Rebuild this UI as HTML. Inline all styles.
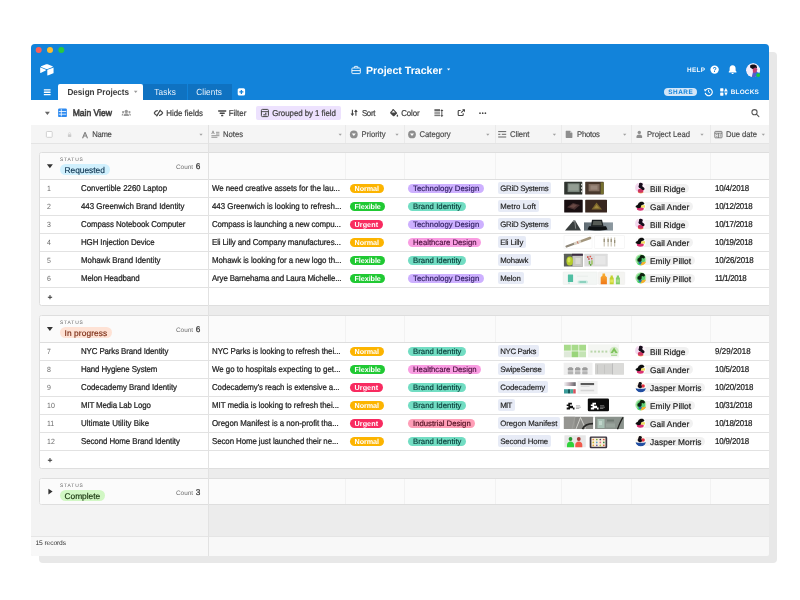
<!DOCTYPE html>
<html><head><meta charset="utf-8"><title>Project Tracker</title>
<style>
*{box-sizing:border-box;margin:0;padding:0}
html,body{width:800px;height:600px;background:#fff;overflow:hidden}
body{font-family:"Liberation Sans",sans-serif;font-size:7.9px;color:#222;position:relative;text-rendering:geometricPrecision}
.shadow{position:absolute;left:39px;top:52px;width:738px;height:511px;background:#e8e8e8;border-radius:4px}
.win{position:absolute;left:31px;top:44px;width:737.5px;height:512px;background:#ececec;border-radius:4px 4px 2px 2px;overflow:hidden}
.page{position:absolute;left:-31px;top:-44px;width:800px;height:600px;will-change:transform}
.hdr{position:absolute;left:31px;top:44px;width:738px;height:56px;background:#1283da}
.t{position:absolute;white-space:nowrap}
.title{left:366px;top:62.6px;color:#fff;font-weight:bold;font-size:10.6px;line-height:16px}
.hl{color:#f4f9fe;font-weight:bold;font-size:6.4px;line-height:8px}
.tabact{position:absolute;left:58px;top:84px;width:85px;height:16px;background:#fff;border-radius:2px 2px 0 0}
.tab{position:absolute;top:84px;height:16px;background:#0f72c1}
.tabt{top:84.6px;line-height:16px;font-size:8.2px}
.tbar{position:absolute;left:31px;top:100px;width:738px;height:25px;background:#fff}
.tb{top:100.7px;line-height:25px;font-size:7.9px;color:#444;-webkit-text-stroke:.22px #444}
.chdr{position:absolute;left:31px;top:125px;width:738px;height:19px;background:#f5f5f5;border-bottom:1px solid #e4e4e4}
.ch{top:125.8px;line-height:18px;font-size:7.7px;color:#484848;-webkit-text-stroke:.15px #484848}
.cl{position:absolute;top:125px;width:1px;height:18px;background:#eaeaea}
.grp{position:absolute;left:39px;width:740px;background:#fff;border:1px solid #dedede;border-radius:2.5px;overflow:hidden}
.ghead{position:absolute;left:0;top:0;width:100%;height:27px;background:#fbfbfb;border-bottom:1px solid #dedede}
.ghead.closed{border-bottom:0;height:26px}
.ghead span{position:absolute;white-space:nowrap}
.ghead i{position:absolute;top:0;width:1px;height:26px;background:#f2f2f2}
.gstatus{left:20px;top:4.5px;font-size:4.9px;letter-spacing:.85px;color:#666;line-height:6px}
.glabel{left:19.5px;top:11px;height:11px;line-height:12px;border-radius:5.5px;padding:0 0 0 5px;font-size:8.4px;color:#222;-webkit-text-stroke:.15px #222}
.req{background:#d0f0fd;color:#0d3350;-webkit-text-stroke-color:#0d3350}.inp{background:#fee2d5;color:#7a2c14;-webkit-text-stroke-color:#7a2c14}.cmp{background:#d1f7c4;color:#14300a;-webkit-text-stroke-color:#14300a}
.gcount{left:136px;top:8px;font-size:6.4px;color:#6e6e6e;line-height:11px}
.gcount b{font-weight:normal;font-size:8.3px;color:#333;margin-left:1px;-webkit-text-stroke:.2px #333}
.row{position:absolute;left:0;width:740px;height:18px;border-bottom:1px solid #e2e2e2;line-height:17px;white-space:nowrap}
.row.add{border-bottom:0}
.row>span{position:absolute;top:0}
.num{left:7px;top:.8px !important;color:#6a6a6a;font-size:7px}
.name{left:41px;color:#222;-webkit-text-stroke:.22px #222}
.notes{left:172px;color:#222;-webkit-text-stroke:.22px #222}
.pill{top:3.5px !important;height:9.6px;line-height:10.4px;border-radius:5px;font-size:7.75px}
.pri{left:309.5px;padding:0 0 0 5px;color:#fff;font-weight:bold;font-size:7.2px}
.cat{left:368px;padding:0 0 0 5px;-webkit-text-stroke:.15px currentColor}
.client{left:457.5px;top:2.3px !important;height:11.5px;line-height:14.3px;overflow:hidden;background:#e7ebf6;padding:0 0 0 2.7px;font-size:7.8px;-webkit-text-stroke:.15px #222;border-radius:2px;color:#1c1c1c}
.ph{position:absolute;left:521px;top:0}
.lead{left:596px;top:3.6px !important;height:9.8px;line-height:10.6px;background:#f1f1f1;border-radius:5px;padding:0 0 0 14px;font-size:8.3px;color:#1c1c1c;-webkit-text-stroke:.2px #222}
.avs{position:absolute;left:595.3px;top:2.2px}
.due{left:675px;color:#222;-webkit-text-stroke:.22px #222}
.plus{left:7.6px;top:1.2px !important;font-weight:bold;color:#333;font-size:8.5px}
.foot{position:absolute;left:31px;top:536px;width:738px;height:20px;background:#f8f8f8;border-top:1px solid #e5e5e5}
.vline{position:absolute;left:207.5px;top:125px;width:1px;height:431px;background:#e2e2e2}
.icons{position:absolute;left:0;top:0}
.tb,.ch,.name,.notes,.due,.num,.tabt{transform:scaleY(1.08);transform-origin:0 55%}
</style></head><body>
<div class="shadow"></div>
<div class="win"><div class="page">
 <div class="hdr"></div>
 <div class="tabact"></div>
 <div class="tab" style="left:143px;width:44px"></div>
 <div class="tab" style="left:187.5px;width:44px"></div>
 <div style="position:absolute;left:663.8px;top:88px;width:33.2px;height:7.7px;border-radius:4px;background:#d3e6f8"></div>
 <span class="t title" style="letter-spacing:-0.007px">Project Tracker</span>
 <span class="t hl" style="left:687px;top:66.5px;letter-spacing:0.31px">HELP</span>
 <span class="t hl" style="left:730.7px;top:88.7px;letter-spacing:0.216px">BLOCKS</span>
 <span class="t hl" style="left:668.2px;top:88.7px;color:#1283da;letter-spacing:0.549px">SHARE</span>
 <span class="t tabt" style="left:67.4px;color:#3c3c3c;font-weight:bold;letter-spacing:-0.013px">Design Projects</span>
 <span class="t tabt" style="left:154.2px;color:#eaf3fc;letter-spacing:0.21px">Tasks</span>
 <span class="t tabt" style="left:196.2px;color:#eaf3fc;letter-spacing:0.122px">Clients</span>
 <div class="tbar"></div>
 <span class="t tb" style="left:72.7px;font-size:8.6px;-webkit-text-stroke:.55px #444;letter-spacing:-0.027px">Main View</span>
 <span class="t tb" style="left:166.2px;letter-spacing:0.001px">Hide fields</span>
 <span class="t tb" style="left:228.8px;letter-spacing:-0.011px">Filter</span>
 <div style="position:absolute;left:256px;top:105.5px;width:85px;height:14.5px;background:#ede2fe;border-radius:2px"></div>
 <span class="t tb" style="left:272.2px;letter-spacing:-0.048px">Grouped by 1 field</span>
 <span class="t tb" style="left:361.9px;letter-spacing:-0.33px">Sort</span>
 <span class="t tb" style="left:401.2px;letter-spacing:-0.132px">Color</span>
 <div class="chdr"></div>
 <i class="cl" style="left:345px"></i><i class="cl" style="left:404px"></i><i class="cl" style="left:495px"></i><i class="cl" style="left:561px"></i><i class="cl" style="left:631px"></i><i class="cl" style="left:710px"></i>
 <span class="t ch" style="left:92.2px;letter-spacing:-0.297px">Name</span>
 <span class="t ch" style="left:223.1px;letter-spacing:-0.029px">Notes</span>
 <span class="t ch" style="left:361.5px;letter-spacing:0.02px">Priority</span>
 <span class="t ch" style="left:419.5px;letter-spacing:0.001px">Category</span>
 <span class="t ch" style="left:510px;letter-spacing:-0.057px">Client</span>
 <span class="t ch" style="left:577px;letter-spacing:-0.194px">Photos</span>
 <span class="t ch" style="left:647px;letter-spacing:-0.021px">Project Lead</span>
 <span class="t ch" style="left:726px;letter-spacing:-0.036px">Due date</span>
<div style="position:absolute;left:31px;top:144px;width:177px;height:392px;background:#f3f3f3"></div>
<div class="grp" style="top:152px;height:153.5px">
<div class="ghead"><span class="gstatus">STATUS</span><span class="glabel req" style="width:50.5px;letter-spacing:-0.016px">Requested</span><span class="gcount">Count <b>6</b></span><i style="left:305px"></i><i style="left:364px"></i><i style="left:455px"></i><i style="left:521px"></i><i style="left:591px"></i><i style="left:670px"></i></div>
<div class="row" style="top:27px">
<span class="num">1</span><span class="name" style="letter-spacing:0.005px">Convertible 2260 Laptop</span><span class="notes" style="letter-spacing:-0.059px">We need creative assets for the lau...</span>
<span class="pill pri" style="background:#fcb400;width:34.0px;letter-spacing:-0.041px">Normal</span>
<span class="pill cat" style="background:#cdb0ff;color:#2b1a5c;width:75.8px;letter-spacing:0.045px">Technology Design</span>
<span class="client" style="width:53.9px;letter-spacing:-0.24px">GRiD Systems</span>
<svg class="ph" width="70" height="18" viewBox="561 0 70 18"><rect x="564.2" y="1.8" width="18.1" height="12.8" fill="#2f342f" rx="0.6"/><rect x="567.6" y="3.3" width="12" height="8.8" fill="#77837a"/><rect x="568.6" y="4.3" width="10" height="6.300000000000001" fill="#939d93"/><rect x="581" y="3.8" width="1.3" height="1.6" fill="#d8d8d2"/><rect x="581" y="7.2" width="1.3" height="1.6" fill="#d8d8d2"/><rect x="581" y="10.600000000000001" width="1.3" height="1.6" fill="#d8d8d2"/><rect x="585.2" y="1.8" width="18.5" height="12.8" fill="#47372c" rx="0.6"/><rect x="588.6" y="4.0" width="11" height="7.300000000000001" fill="#826d60"/><rect x="590.5" y="5.4" width="7" height="4.300000000000001" fill="#9a877b"/><rect x="600.7" y="2.4" width="3" height="11.600000000000001" fill="#76702f"/></svg>
<span class="lead" style="width:53.2px;letter-spacing:0.038px">Bill Ridge</span><svg class="avs" width="12" height="12" viewBox="0 0 12 12"><clipPath id="cbill"><circle cx="5.800" cy="5.800" r="5.700"/></clipPath><g clip-path="url(#cbill)"><circle cx="5.800" cy="5.800" r="5.700" fill="#fbf3f8"/><g filter="url(#avb)"><ellipse cx="2" cy="5" rx="2.500" ry="4" fill="#f3d8ee"/><ellipse cx="5.700" cy="10.800" rx="3" ry="1.300" fill="#f4a552"/><ellipse cx="5.600" cy="8.700" rx="2.800" ry="2" fill="#cf3563"/><path d="M4.500 1c1.800-.600 3.500.200 3.300 1.600-.100.800-.900 1.100-.500 1.700.500.700 2 1 2.200 2.300.200 1.200-.700 1.700-1.600 1.500-.800-.200-1-.900-1.800-1.200-.900-.300-2-.600-2.500-1.800-.400-1.100.500-1.700.400-2.600-.100-.700.100-1.300.500-1.500z" fill="#190d1a"/></g></g></svg>
<span class="due" style="letter-spacing:-0.131px">10/4/2018</span>
</div>
<div class="row" style="top:45px">
<span class="num">2</span><span class="name" style="letter-spacing:-0.018px">443 Greenwich Brand Identity</span><span class="notes" style="letter-spacing:-0.022px">443 Greenwich is looking to refresh...</span>
<span class="pill pri" style="background:#20c933;width:35.8px;letter-spacing:-0.059px">Flexible</span>
<span class="pill cat" style="background:#72ddc3;color:#063a36;width:58.1px;letter-spacing:0.052px">Brand Identity</span>
<span class="client" style="width:41.1px;letter-spacing:0.065px">Metro Loft</span>
<svg class="ph" width="70" height="18" viewBox="561 0 70 18"><rect x="564.2" y="1.8" width="18.5" height="12.8" fill="#190f11" rx="0.6"/><path d="M567 9.200l6-4.200 7 2-5.500 4.800z" fill="#4b3232"/><path d="M569.500 8.700l3.800-2.600 3.700 1.100-3.300 2.700z" fill="#6a4a45"/><rect x="585.2" y="1.8" width="21.8" height="12.8" fill="#38271f" rx="0.6"/><path d="M591.500 11.500l5-7 5.500 7z" fill="#7d672c"/><path d="M594 10.300l2.500-3.600 2.800 3.600z" fill="#a48b3d"/></svg>
<span class="lead" style="width:57.0px;letter-spacing:0.049px">Gail Ander</span><svg class="avs" width="12" height="12" viewBox="0 0 12 12"><clipPath id="cgail"><circle cx="5.800" cy="5.800" r="5.700"/></clipPath><g clip-path="url(#cgail)"><circle cx="5.800" cy="5.800" r="5.700" fill="#fbfbfb"/><g filter="url(#avb)"><ellipse cx="5.300" cy="8.800" rx="3.500" ry="1.900" fill="#db3273"/><path d="M5.800 5.200h4.200v2.400h-4.200z" fill="#efe062"/><path d="M4.800 2.300c1.600-1 4.200-.300 4.500 1 .200.800-.600 1.300-1.600 1.500-.900.200-1.600.500-1.700 1.400-.100.900-.500 1.700-1.700 1.900-1.500.200-3.300-.100-3.700-1.100-.300-.800.500-1.400 1.300-1.800.700-.400 1-.700 1.300-1.500.300-.600.900-1.100 1.600-1.400z" fill="#0d0d0d"/></g></g></svg>
<span class="due" style="letter-spacing:-0.216px">10/12/2018</span>
</div>
<div class="row" style="top:63px">
<span class="num">3</span><span class="name" style="letter-spacing:-0.073px">Compass Notebook Computer</span><span class="notes" style="letter-spacing:-0.119px">Compass is launching a new compu...</span>
<span class="pill pri" style="background:#f82b60;width:33.0px;letter-spacing:0.08px">Urgent</span>
<span class="pill cat" style="background:#cdb0ff;color:#2b1a5c;width:75.8px;letter-spacing:0.045px">Technology Design</span>
<span class="client" style="width:53.9px;letter-spacing:-0.24px">GRiD Systems</span>
<svg class="ph" width="70" height="18" viewBox="561 0 70 18"><path d="M565 14.500l8.700-10.300h1.300l6 10.300z" fill="#3a3e3e"/><path d="M573.200 6l1.500-1.800 1 8.500" fill="none" stroke="#a7abab" stroke-width=".7"/><linearGradient id="lg3" x1="0" x2="1"><stop offset="0" stop-color="#5f6b73"/><stop offset="1" stop-color="#8e9aa1"/></linearGradient><rect x="584" y="6.4" width="29" height="8.2" fill="url(#lg3)"/><path d="M592 3.800h10l1.500 6.500h-12.500z" fill="#1c2022"/><path d="M593.300 5h7.800l1 4.300h-9.600z" fill="#565b56"/><path d="M589 10.300h17l1.500 3.200c-6 1.300-14 1.300-20 0z" fill="#0f1214"/></svg>
<span class="lead" style="width:53.2px;letter-spacing:0.038px">Bill Ridge</span><svg class="avs" width="12" height="12" viewBox="0 0 12 12"><clipPath id="cbill"><circle cx="5.800" cy="5.800" r="5.700"/></clipPath><g clip-path="url(#cbill)"><circle cx="5.800" cy="5.800" r="5.700" fill="#fbf3f8"/><g filter="url(#avb)"><ellipse cx="2" cy="5" rx="2.500" ry="4" fill="#f3d8ee"/><ellipse cx="5.700" cy="10.800" rx="3" ry="1.300" fill="#f4a552"/><ellipse cx="5.600" cy="8.700" rx="2.800" ry="2" fill="#cf3563"/><path d="M4.500 1c1.800-.600 3.500.200 3.300 1.600-.100.800-.900 1.100-.500 1.700.500.700 2 1 2.200 2.300.200 1.200-.700 1.700-1.600 1.500-.800-.200-1-.900-1.800-1.200-.900-.300-2-.600-2.500-1.800-.400-1.100.500-1.700.400-2.600-.100-.700.100-1.300.500-1.500z" fill="#190d1a"/></g></g></svg>
<span class="due" style="letter-spacing:-0.216px">10/17/2018</span>
</div>
<div class="row" style="top:81px">
<span class="num">4</span><span class="name" style="letter-spacing:-0.096px">HGH Injection Device</span><span class="notes" style="letter-spacing:-0.1px">Eli Lilly and Company manufactures...</span>
<span class="pill pri" style="background:#fcb400;width:34.0px;letter-spacing:-0.041px">Normal</span>
<span class="pill cat" style="background:#f99de2;color:#4a0f3c;width:73.1px;letter-spacing:-0.016px">Healthcare Design</span>
<span class="client" style="width:28.5px;letter-spacing:-0.147px">Eli Lilly</span>
<svg class="ph" width="70" height="18" viewBox="561 0 70 18"><rect x="564" y="1.8" width="28" height="12.8" fill="#fff" stroke="#f0f0f0" stroke-width=".5"/><path d="M566.500 12.500l7.500-2.700" stroke="#8f8778" stroke-width="2.200" stroke-linecap="round"/><path d="M574 9.800l8-2.900" stroke="#d9d2c4" stroke-width="3"/><path d="M577.300 7.400l.8 2.300" stroke="#c0392b" stroke-width=".7"/><path d="M582 6.900l8-2.900" stroke="#a3967d" stroke-width="2.600" stroke-linecap="round"/><rect x="594.8" y="1.8" width="29.8" height="12.8" fill="#fff" stroke="#ededed" stroke-width=".5"/><path d="M604.200 3.500v9M608.100 3.500v9M611.200 3.500v9M614.700 3.500v9" stroke="#b9b19a" stroke-width=".9"/><path d="M604.200 5v3M608.100 5v3M611.200 5v3M614.700 6v3" stroke="#8f876f" stroke-width="1.100"/></svg>
<span class="lead" style="width:57.0px;letter-spacing:0.049px">Gail Ander</span><svg class="avs" width="12" height="12" viewBox="0 0 12 12"><clipPath id="cgail"><circle cx="5.800" cy="5.800" r="5.700"/></clipPath><g clip-path="url(#cgail)"><circle cx="5.800" cy="5.800" r="5.700" fill="#fbfbfb"/><g filter="url(#avb)"><ellipse cx="5.300" cy="8.800" rx="3.500" ry="1.900" fill="#db3273"/><path d="M5.800 5.200h4.200v2.400h-4.200z" fill="#efe062"/><path d="M4.800 2.300c1.600-1 4.200-.300 4.500 1 .200.800-.600 1.300-1.600 1.500-.900.200-1.600.500-1.700 1.400-.100.900-.500 1.700-1.700 1.900-1.500.200-3.300-.100-3.700-1.100-.300-.800.500-1.400 1.300-1.800.700-.400 1-.700 1.300-1.500.300-.600.900-1.100 1.600-1.400z" fill="#0d0d0d"/></g></g></svg>
<span class="due" style="letter-spacing:-0.193px">10/19/2018</span>
</div>
<div class="row" style="top:99px">
<span class="num">5</span><span class="name" style="letter-spacing:-0.038px">Mohawk Brand Identity</span><span class="notes" style="letter-spacing:-0.058px">Mohawk is looking for a new logo th...</span>
<span class="pill pri" style="background:#20c933;width:35.8px;letter-spacing:-0.059px">Flexible</span>
<span class="pill cat" style="background:#72ddc3;color:#063a36;width:58.1px;letter-spacing:0.052px">Brand Identity</span>
<span class="client" style="width:33.7px;letter-spacing:-0.149px">Mohawk</span>
<svg class="ph" width="70" height="18" viewBox="561 0 70 18"><rect x="563.9" y="1.8" width="19" height="12.8" fill="#5c605a" rx="0.5"/><rect x="572.5" y="1.8" width="10.4" height="12.8" fill="#c6c6c2"/><rect x="572" y="1.8" width="10.9" height="2" fill="#3b2b40"/><ellipse cx="569.700" cy="9" rx="3.300" ry="4.600" fill="#b5cc2b"/><ellipse cx="569" cy="8" rx="1.500" ry="2.500" fill="#d6e455"/><rect x="575.5" y="6" width="5" height="6" fill="#dad9d4"/><rect x="584.3" y="1.8" width="23.4" height="12.8" fill="#dddddd" rx="0.5"/><rect x="587" y="4.3" width="1.6" height="1.5" fill="#c83a34"/><rect x="589.5" y="3.8" width="1.6" height="1.5" fill="#d9534a"/><rect x="588.2" y="6.3" width="1.4" height="1.4" fill="#b03030"/><rect x="591" y="6" width="1.4" height="1.4" fill="#d9534a"/><rect x="588.7" y="9" width="1.5" height="3.5" fill="#79b04f"/><rect x="591.2" y="8.3" width="1.5" height="4.2" fill="#9ac25a"/><rect x="590" y="12" width="1.4" height="1.8" fill="#5f9f3f"/><rect x="595" y="4" width="10.5" height="8.5" fill="#e7e7e7"/></svg>
<span class="lead" style="width:58.8px;letter-spacing:0.038px">Emily Pillot</span><svg class="avs" width="12" height="12" viewBox="0 0 12 12"><clipPath id="cemily"><circle cx="5.800" cy="5.800" r="5.700"/></clipPath><g clip-path="url(#cemily)"><circle cx="5.800" cy="5.800" r="5.700" fill="#b5e8ae"/><g filter="url(#avb)"><circle cx="5.800" cy="5.800" r="4.300" fill="#5ecf74"/><path d="M5.800 8.200l5 -.500v4.500h-5z" fill="#f6b12f"/><path d="M2 9.500l3.800-1v3.500h-3.800z" fill="#45d566"/><ellipse cx="5.200" cy="8.600" rx="1.500" ry="1.600" fill="#2b6fae"/><path d="M5.800 1.300c1.800-.800 3.900.300 4.100 1.800.100 1-.500 1.500-1.400 1.300-.700-.200-1.200-.600-1.700-.200-.500.500.100 1.300-.200 2.200-.400 1.100-1.700 1.700-2.900 1.300-1.200-.400-1.600-1.700-1-2.700.500-.900 1.500-1 1.900-1.800.300-.700.500-1.500 1.200-1.900z" fill="#08200f"/></g></g></svg>
<span class="due" style="letter-spacing:-0.093px">10/26/2018</span>
</div>
<div class="row" style="top:117px">
<span class="num">6</span><span class="name" style="letter-spacing:-0.113px">Melon Headband</span><span class="notes" style="letter-spacing:-0.149px">Arye Barnehama and Laura Michelle...</span>
<span class="pill pri" style="background:#20c933;width:35.8px;letter-spacing:-0.059px">Flexible</span>
<span class="pill cat" style="background:#cdb0ff;color:#2b1a5c;width:75.8px;letter-spacing:0.045px">Technology Design</span>
<span class="client" style="width:26.1px;letter-spacing:-0.136px">Melon</span>
<svg class="ph" width="70" height="18" viewBox="561 0 70 18"><rect x="563.2" y="2.0" width="34" height="12.4" fill="#f3f6f4" rx="0.5" stroke="#e9ecea" stroke-width=".5"/><rect x="567.9" y="4.5" width="5.2" height="7.5" fill="#50bfa3" rx="0.5"/><rect x="568.5" y="12.3" width="1" height="1.5" fill="#9fd9cb"/><rect x="577.5" y="10.5" width="10.5" height="3" fill="#c4eadf" rx="1.5"/><rect x="579.5" y="11.5" width="6.5" height="1" fill="#57b9a0"/><rect x="577" y="5.8" width="11" height="0.7" fill="#e4e9e6"/><rect x="598.5" y="2.0" width="26.2" height="12.4" fill="#f4f4f1" rx="0.5" stroke="#ececea" stroke-width=".5"/><linearGradient id="lg6" x1="0" x2="0" y1="0" y2="1"><stop offset="0" stop-color="#f9b233"/><stop offset="1" stop-color="#ef7719"/></linearGradient><path d="M602.500 3.500h2.600v2l1.800 1.800v7h-6.200v-7l1.800-1.800z" fill="url(#lg6)"/><path d="M610.600 5.500h2.200v1.500l.9.900v6.400h-4v-6.400l.9-.9z" fill="#c3d12f"/><rect x="610.2" y="9.5" width="3" height="3" fill="#e3e65a"/><path d="M616.800 5.500h2.200v1.500l.9.900v6.400h-4v-6.400l.9-.9z" fill="#7fcd6b"/><rect x="616.4" y="9.5" width="3" height="3" fill="#a6dd8c"/></svg>
<span class="lead" style="width:58.8px;letter-spacing:0.038px">Emily Pillot</span><svg class="avs" width="12" height="12" viewBox="0 0 12 12"><clipPath id="cemily"><circle cx="5.800" cy="5.800" r="5.700"/></clipPath><g clip-path="url(#cemily)"><circle cx="5.800" cy="5.800" r="5.700" fill="#b5e8ae"/><g filter="url(#avb)"><circle cx="5.800" cy="5.800" r="4.300" fill="#5ecf74"/><path d="M5.800 8.200l5 -.500v4.500h-5z" fill="#f6b12f"/><path d="M2 9.500l3.800-1v3.500h-3.800z" fill="#45d566"/><ellipse cx="5.200" cy="8.600" rx="1.500" ry="1.600" fill="#2b6fae"/><path d="M5.800 1.300c1.800-.800 3.900.300 4.100 1.800.100 1-.500 1.500-1.400 1.300-.700-.200-1.200-.600-1.700-.200-.500.500.100 1.300-.200 2.200-.400 1.100-1.700 1.700-2.900 1.300-1.200-.400-1.600-1.700-1-2.700.500-.900 1.500-1 1.900-1.800.300-.700.500-1.500 1.200-1.900z" fill="#08200f"/></g></g></svg>
<span class="due" style="letter-spacing:-0.357px">11/1/2018</span>
</div>
<div class="row add" style="top:135px"><span class="plus">+</span></div>
</div>
<div class="grp" style="top:315px;height:153.5px">
<div class="ghead"><span class="gstatus">STATUS</span><span class="glabel inp" style="width:52.9px;letter-spacing:0.088px">In progress</span><span class="gcount">Count <b>6</b></span><i style="left:305px"></i><i style="left:364px"></i><i style="left:455px"></i><i style="left:521px"></i><i style="left:591px"></i><i style="left:670px"></i></div>
<div class="row" style="top:27px">
<span class="num">7</span><span class="name" style="letter-spacing:-0.109px">NYC Parks Brand Identity</span><span class="notes" style="letter-spacing:-0.068px">NYC Parks is looking to refresh thei...</span>
<span class="pill pri" style="background:#fcb400;width:34.0px;letter-spacing:-0.041px">Normal</span>
<span class="pill cat" style="background:#72ddc3;color:#063a36;width:58.1px;letter-spacing:0.052px">Brand Identity</span>
<span class="client" style="width:41.5px;letter-spacing:-0.309px">NYC Parks</span>
<svg class="ph" width="70" height="18" viewBox="561 0 70 18"><rect x="563.7" y="1.4" width="22.5" height="13.0" fill="#f2f7ee"/><rect x="564" y="1.7999999999999998" width="6.8" height="5.8" fill="#a8db8b"/><rect x="571.6" y="1.7999999999999998" width="6.8" height="5.8" fill="#a8db8b"/><rect x="579.2" y="1.7999999999999998" width="6.8" height="5.8" fill="#a8db8b"/><rect x="564" y="8.4" width="6.8" height="5.8" fill="#dfe9da"/><rect x="571.6" y="8.4" width="6.8" height="5.8" fill="#9ad57b"/><rect x="579.2" y="8.4" width="6.8" height="5.8" fill="#c4e4b4"/><rect x="588" y="1.4" width="31" height="13.0" fill="#f4f6f2"/><rect x="590.5" y="7.6" width="2" height="2" fill="#b9d6aa"/><rect x="594.2" y="7.6" width="2" height="2" fill="#b9d6aa"/><rect x="597.9" y="7.6" width="2" height="2" fill="#b9d6aa"/><rect x="601.6" y="7.6" width="2" height="2" fill="#b9d6aa"/><rect x="605.3" y="7.6" width="2" height="2" fill="#b9d6aa"/><circle cx="614.100" cy="8.200" r="4.500" fill="#d3eac6"/><path d="M610.600 10l3.500-5.500 3.500 5.500z" fill="#7cc259"/><path d="M612.700 10l1.400-2 1.400 2z" fill="#d3eac6"/><rect x="611" y="12.2" width="6.2" height="0.8" fill="#a6d590"/></svg>
<span class="lead" style="width:53.2px;letter-spacing:0.038px">Bill Ridge</span><svg class="avs" width="12" height="12" viewBox="0 0 12 12"><clipPath id="cbill"><circle cx="5.800" cy="5.800" r="5.700"/></clipPath><g clip-path="url(#cbill)"><circle cx="5.800" cy="5.800" r="5.700" fill="#fbf3f8"/><g filter="url(#avb)"><ellipse cx="2" cy="5" rx="2.500" ry="4" fill="#f3d8ee"/><ellipse cx="5.700" cy="10.800" rx="3" ry="1.300" fill="#f4a552"/><ellipse cx="5.600" cy="8.700" rx="2.800" ry="2" fill="#cf3563"/><path d="M4.500 1c1.800-.600 3.500.200 3.300 1.600-.100.800-.900 1.100-.500 1.700.500.700 2 1 2.200 2.300.200 1.200-.700 1.700-1.600 1.500-.800-.200-1-.900-1.800-1.200-.900-.300-2-.600-2.500-1.800-.400-1.100.500-1.700.400-2.600-.100-.700.100-1.300.500-1.500z" fill="#190d1a"/></g></g></svg>
<span class="due" style="letter-spacing:0.069px">9/29/2018</span>
</div>
<div class="row" style="top:45px">
<span class="num">8</span><span class="name" style="letter-spacing:-0.117px">Hand Hygiene System</span><span class="notes" style="letter-spacing:-0.019px">We go to hospitals expecting to get...</span>
<span class="pill pri" style="background:#20c933;width:35.8px;letter-spacing:-0.059px">Flexible</span>
<span class="pill cat" style="background:#f99de2;color:#4a0f3c;width:73.1px;letter-spacing:-0.016px">Healthcare Design</span>
<span class="client" style="width:47.1px;letter-spacing:-0.185px">SwipeSense</span>
<svg class="ph" width="70" height="18" viewBox="561 0 70 18"><rect x="563.7" y="1.7" width="28.8" height="12.4" fill="#efefef" rx="0.5"/><rect x="567.8" y="7" width="5.4" height="2.6" fill="#9a9a9a" rx="0.6"/><rect x="567.8" y="10.2" width="5.4" height="3" fill="#b4b4b4" rx="0.6"/><rect x="568.8" y="6" width="3.4" height="1.2" fill="#b0b0b0"/><rect x="575.0" y="7" width="5.4" height="2.6" fill="#9a9a9a" rx="0.6"/><rect x="575.0" y="10.2" width="5.4" height="3" fill="#b4b4b4" rx="0.6"/><rect x="576.0" y="6" width="3.4" height="1.2" fill="#b0b0b0"/><rect x="582.1999999999999" y="7" width="5.4" height="2.6" fill="#9a9a9a" rx="0.6"/><rect x="582.1999999999999" y="10.2" width="5.4" height="3" fill="#b4b4b4" rx="0.6"/><rect x="583.1999999999999" y="6" width="3.4" height="1.2" fill="#b0b0b0"/><rect x="595" y="2.3" width="28.9" height="11.2" fill="#d2d2d0" rx="0.5"/><rect x="612.3" y="2.3" width="0.7" height="11.2" fill="#b4b4b4"/><rect x="613" y="2.3" width="10.9" height="11.2" fill="#dbdbd9"/><rect x="597" y="3.8" width="0.5" height="9" fill="#b5b5b3"/><rect x="604" y="3.8" width="0.5" height="9" fill="#b9b9b7"/></svg>
<span class="lead" style="width:57.0px;letter-spacing:0.049px">Gail Ander</span><svg class="avs" width="12" height="12" viewBox="0 0 12 12"><clipPath id="cgail"><circle cx="5.800" cy="5.800" r="5.700"/></clipPath><g clip-path="url(#cgail)"><circle cx="5.800" cy="5.800" r="5.700" fill="#fbfbfb"/><g filter="url(#avb)"><ellipse cx="5.300" cy="8.800" rx="3.500" ry="1.900" fill="#db3273"/><path d="M5.800 5.200h4.200v2.400h-4.200z" fill="#efe062"/><path d="M4.800 2.300c1.600-1 4.200-.300 4.500 1 .200.800-.600 1.300-1.600 1.500-.900.200-1.600.500-1.700 1.400-.100.900-.500 1.700-1.700 1.900-1.500.200-3.300-.100-3.700-1.100-.300-.800.500-1.400 1.300-1.800.700-.400 1-.700 1.300-1.500.300-.600.900-1.100 1.600-1.400z" fill="#0d0d0d"/></g></g></svg>
<span class="due" style="letter-spacing:-0.131px">10/5/2018</span>
</div>
<div class="row" style="top:63px">
<span class="num">9</span><span class="name" style="letter-spacing:-0.058px">Codecademy Brand Identity</span><span class="notes" style="letter-spacing:-0.083px">Codecademy's reach is extensive a...</span>
<span class="pill pri" style="background:#f82b60;width:33.0px;letter-spacing:0.08px">Urgent</span>
<span class="pill cat" style="background:#72ddc3;color:#063a36;width:58.1px;letter-spacing:0.052px">Brand Identity</span>
<span class="client" style="width:50.4px;letter-spacing:-0.107px">Codecademy</span>
<svg class="ph" width="70" height="18" viewBox="561 0 70 18"><linearGradient id="lg9" x1="0" x2="1"><stop offset="0" stop-color="#f4f4f6"/><stop offset=".5" stop-color="#b8a8b0"/><stop offset="1" stop-color="#5f6066"/></linearGradient><rect x="564" y="3.2" width="11.7" height="3.8" fill="url(#lg9)"/><rect x="564" y="10.2" width="4" height="4.3" fill="#3b9b99"/><rect x="568" y="10.2" width="2.5" height="4.3" fill="#135a5b"/><rect x="570.5" y="10.2" width="2.7" height="4.3" fill="#43ab9b"/><rect x="573.2" y="10.2" width="2.5" height="4.3" fill="#d8515c"/><rect x="577.5" y="2" width="20.1" height="13" fill="#f2f2f2" rx="0.5"/><rect x="580.6" y="4" width="13.5" height="2.1" fill="#5a5a5a"/><rect x="580.6" y="7.2" width="9" height="0.6" fill="#cfcfcf"/><rect x="580.6" y="10.5" width="13.5" height="2" fill="#e2e2e2"/><rect x="580.6" y="11.2" width="13.5" height="0.5" fill="#c9c9c9"/></svg>
<span class="lead" style="width:69.3px;letter-spacing:0.102px">Jasper Morris</span><svg class="avs" width="12" height="12" viewBox="0 0 12 12"><clipPath id="cjasper"><circle cx="5.800" cy="5.800" r="5.700"/></clipPath><g clip-path="url(#cjasper)"><circle cx="5.800" cy="5.800" r="5.700" fill="#fdfaf2"/><g filter="url(#avb)"><path d="M.500 7.300c3.500.700 7 .700 10.400 0-.300 2.600-2.400 4.300-5.200 4.300s-4.900-1.700-5.200-4.300z" fill="#2350a3"/><ellipse cx="8" cy="5" rx="1.900" ry="1.800" fill="#e23242"/><path d="M4.700 1c1.300-.300 2.300.500 2.200 1.600-.100.700-.600 1-.500 1.600.100.700.700 1.100.600 1.900-.100.900-1 1.300-2 1.100-1.100-.200-2.200-.900-2.300-2-.100-.900.600-1.300.700-2.100.100-.800.500-1.800 1.300-2.100z" fill="#140a12"/></g></g></svg>
<span class="due" style="letter-spacing:-0.127px">10/20/2018</span>
</div>
<div class="row" style="top:81px">
<span class="num">10</span><span class="name" style="letter-spacing:-0.136px">MIT Media Lab Logo</span><span class="notes" style="letter-spacing:-0.057px">MIT media is looking to refresh thei...</span>
<span class="pill pri" style="background:#fcb400;width:34.0px;letter-spacing:-0.041px">Normal</span>
<span class="pill cat" style="background:#72ddc3;color:#063a36;width:58.1px;letter-spacing:0.052px">Brand Identity</span>
<span class="client" style="width:17.4px;letter-spacing:-0.715px">MIT</span>
<svg class="ph" width="70" height="18" viewBox="561 0 70 18"><rect x="563.7" y="1.4" width="21.5" height="13.0" fill="#fff"/><path d="M568.3 5.800h3.600v1.600h-1.900v1.300h3v1.700h1.500v2.200h-1.600v-1.300h-2.900v1.300h-3.300v-2.200h1.700v-1.400h-1.700v-1.600h1.600z" fill="#111"/><rect x="575.9" y="8.5" width="4.2" height="0.7" fill="#999"/><rect x="575.9" y="9.8" width="5" height="0.7" fill="#999"/><rect x="575.9" y="11.1" width="3.4" height="0.7" fill="#999"/><rect x="587.8" y="1.5999999999999999" width="21.2" height="12.6" fill="#0b0b0b" rx="1.2"/><path d="M592.4 5.800h3.600v1.600h-1.900v1.300h3v1.700h1.500v2.200h-1.600v-1.300h-2.900v1.300h-3.300v-2.200h1.700v-1.400h-1.700v-1.600h1.600z" fill="#fff"/><rect x="600.0" y="8.5" width="4.2" height="0.7" fill="#9a9a9a"/><rect x="600.0" y="9.8" width="5" height="0.7" fill="#9a9a9a"/><rect x="600.0" y="11.1" width="3.4" height="0.7" fill="#9a9a9a"/></svg>
<span class="lead" style="width:58.8px;letter-spacing:0.038px">Emily Pillot</span><svg class="avs" width="12" height="12" viewBox="0 0 12 12"><clipPath id="cemily"><circle cx="5.800" cy="5.800" r="5.700"/></clipPath><g clip-path="url(#cemily)"><circle cx="5.800" cy="5.800" r="5.700" fill="#b5e8ae"/><g filter="url(#avb)"><circle cx="5.800" cy="5.800" r="4.300" fill="#5ecf74"/><path d="M5.800 8.200l5 -.500v4.500h-5z" fill="#f6b12f"/><path d="M2 9.500l3.800-1v3.500h-3.800z" fill="#45d566"/><ellipse cx="5.200" cy="8.600" rx="1.500" ry="1.600" fill="#2b6fae"/><path d="M5.800 1.300c1.800-.800 3.900.300 4.100 1.800.100 1-.500 1.500-1.400 1.300-.700-.200-1.200-.600-1.700-.200-.500.500.100 1.300-.200 2.200-.400 1.100-1.700 1.700-2.900 1.300-1.200-.400-1.600-1.700-1-2.700.500-.900 1.500-1 1.900-1.800.300-.700.500-1.500 1.200-1.900z" fill="#08200f"/></g></g></svg>
<span class="due" style="letter-spacing:-0.227px">10/31/2018</span>
</div>
<div class="row" style="top:99px">
<span class="num">11</span><span class="name" style="letter-spacing:0.008px">Ultimate Utility Bike</span><span class="notes" style="letter-spacing:-0.038px">Oregon Manifest is a non-profit tha...</span>
<span class="pill pri" style="background:#f82b60;width:33.0px;letter-spacing:0.08px">Urgent</span>
<span class="pill cat" style="background:#ff9eb7;color:#4c0c1c;width:67.3px;letter-spacing:-0.002px">Industrial Design</span>
<span class="client" style="width:62.6px;letter-spacing:-0.033px">Oregon Manifest</span>
<svg class="ph" width="70" height="18" viewBox="561 0 70 18"><rect x="563.9" y="1.7999999999999998" width="29.2" height="12.2" fill="#8b8b87" rx="0.5"/><rect x="563.9" y="1.7999999999999998" width="11" height="12.2" fill="#959591"/><path d="M576 14l4.500-11.500M580.500 2.500l5 11" stroke="#d9d9d5" stroke-width=".9" fill="none"/><path d="M582.500 14.200c1.500-3.500 5-5.500 10.500-5.500" stroke="#262624" stroke-width="1.700" fill="none"/><path d="M572 14l3-12" stroke="#a9a9a5" stroke-width=".6"/><rect x="595" y="1.7999999999999998" width="28.9" height="12.2" fill="#8a928c" rx="0.5"/><rect x="597.5" y="4" width="7" height="9" fill="#a9c1b5"/><rect x="599" y="6" width="3" height="4" fill="#c2d6cc"/><rect x="607" y="4.5" width="7" height="2" fill="#6f7a72"/><rect x="606" y="8.5" width="9" height="4" fill="#98a39b"/><path d="M617.500 14.200c1.500-4 3-8 5.500-11.800" stroke="#1f1f1d" stroke-width="1.300" fill="none"/></svg>
<span class="lead" style="width:57.0px;letter-spacing:0.049px">Gail Ander</span><svg class="avs" width="12" height="12" viewBox="0 0 12 12"><clipPath id="cgail"><circle cx="5.800" cy="5.800" r="5.700"/></clipPath><g clip-path="url(#cgail)"><circle cx="5.800" cy="5.800" r="5.700" fill="#fbfbfb"/><g filter="url(#avb)"><ellipse cx="5.300" cy="8.800" rx="3.500" ry="1.900" fill="#db3273"/><path d="M5.800 5.200h4.200v2.400h-4.200z" fill="#efe062"/><path d="M4.800 2.300c1.600-1 4.200-.300 4.500 1 .200.800-.600 1.300-1.600 1.500-.900.200-1.600.500-1.700 1.400-.100.900-.500 1.700-1.700 1.900-1.500.200-3.300-.100-3.700-1.100-.300-.800.500-1.400 1.300-1.800.700-.400 1-.700 1.300-1.500.300-.600.900-1.100 1.600-1.400z" fill="#0d0d0d"/></g></g></svg>
<span class="due" style="letter-spacing:-0.227px">10/18/2018</span>
</div>
<div class="row" style="top:117px">
<span class="num">12</span><span class="name" style="letter-spacing:-0.08px">Second Home Brand Identity</span><span class="notes" style="letter-spacing:-0.087px">Secon Home just launched their ne...</span>
<span class="pill pri" style="background:#fcb400;width:34.0px;letter-spacing:-0.041px">Normal</span>
<span class="pill cat" style="background:#72ddc3;color:#063a36;width:58.1px;letter-spacing:0.052px">Brand Identity</span>
<span class="client" style="width:53.3px;letter-spacing:-0.153px">Second Home</span>
<svg class="ph" width="70" height="18" viewBox="561 0 70 18"><rect x="564.4" y="2.3" width="21.4" height="12.0" fill="#e7e7e7" rx="0.5"/><circle cx="570.500" cy="6" r="1.900" fill="#27962f"/><path d="M567 14.200v-2.400c0-2 1.500-3.300 3.500-3.300s3.500 1.300 3.500 3.300v2.400z" fill="#2fd23b"/><circle cx="578.800" cy="6" r="1.900" fill="#a23a37"/><path d="M575.300 14.200v-2.400c0-2 1.500-3.300 3.500-3.300s3.500 1.300 3.500 3.300v2.400z" fill="#f15a4b"/><rect x="589.7" y="3.4" width="17.5" height="11.8" fill="#3a3440" rx="1.3"/><rect x="591.4" y="4.8" width="14.1" height="9" fill="#f7eedb"/><circle cx="593.3" cy="6.5" r=".85" fill="#e8833a"/><circle cx="596.8" cy="6.5" r=".85" fill="#7aa838"/><circle cx="600.3" cy="6.5" r=".85" fill="#4a3a5a"/><circle cx="603.8" cy="6.5" r=".85" fill="#d9503a"/><circle cx="593.3" cy="9.4" r=".85" fill="#c8b02a"/><circle cx="596.8" cy="9.4" r=".85" fill="#5aa0c8"/><circle cx="600.3" cy="9.4" r=".85" fill="#e06a8a"/><circle cx="603.8" cy="9.4" r=".85" fill="#3a8a4a"/><circle cx="593.3" cy="12.3" r=".85" fill="#e8a23a"/><circle cx="596.8" cy="12.3" r=".85" fill="#6a5aa8"/><circle cx="600.3" cy="12.3" r=".85" fill="#a8c83a"/><circle cx="603.8" cy="12.3" r=".85" fill="#d95a3a"/></svg>
<span class="lead" style="width:69.3px;letter-spacing:0.102px">Jasper Morris</span><svg class="avs" width="12" height="12" viewBox="0 0 12 12"><clipPath id="cjasper"><circle cx="5.800" cy="5.800" r="5.700"/></clipPath><g clip-path="url(#cjasper)"><circle cx="5.800" cy="5.800" r="5.700" fill="#fdfaf2"/><g filter="url(#avb)"><path d="M.500 7.300c3.500.700 7 .700 10.400 0-.300 2.600-2.400 4.300-5.200 4.300s-4.900-1.700-5.200-4.300z" fill="#2350a3"/><ellipse cx="8" cy="5" rx="1.900" ry="1.800" fill="#e23242"/><path d="M4.700 1c1.300-.300 2.300.500 2.200 1.600-.100.700-.600 1-.500 1.600.100.700.700 1.100.600 1.900-.100.900-1 1.300-2 1.100-1.100-.200-2.200-.900-2.300-2-.100-.900.600-1.300.700-2.100.100-.800.500-1.800 1.300-2.100z" fill="#140a12"/></g></g></svg>
<span class="due" style="letter-spacing:-0.131px">10/9/2018</span>
</div>
<div class="row add" style="top:135px"><span class="plus">+</span></div>
</div>
<div class="grp" style="top:478px;height:26.5px">
<div class="ghead closed"><span class="gstatus">STATUS</span><span class="glabel cmp" style="width:45.7px;letter-spacing:-0.036px">Complete</span><span class="gcount">Count <b>3</b></span><i style="left:305px"></i><i style="left:364px"></i><i style="left:455px"></i><i style="left:521px"></i><i style="left:591px"></i><i style="left:670px"></i></div>
</div>
 <div class="foot"></div>
 <span class="t" style="left:35.5px;top:535.8px;line-height:15px;font-size:6.7px;color:#333;letter-spacing:-0.117px">15 records</span>
 <div class="vline"></div>
 <svg class="icons" width="800" height="600" viewBox="0 0 800 600"><filter id="avb" x="-20%" y="-20%" width="140%" height="140%"><feGaussianBlur stdDeviation=".35"/></filter>
<circle cx="38.7" cy="50" r="3" fill="#fc5f57"/><circle cx="50" cy="50" r="3" fill="#fdbc2e"/><circle cx="61.3" cy="50" r="3" fill="#28c840"/>
<g fill="#fff"><path d="M46.1 64.3l-5 2.05c-.3.12-.3.5 0 .62l5.05 2c.45.17.95.17 1.4 0l5.05-2c.3-.12.3-.5 0-.62l-5-2.05c-.5-.2-1-.2-1.5 0z"/><path d="M47.3 70.1v5c0 .24.24.4.46.3l5.6-2.17c.13-.05.2-.17.2-.3v-5c0-.24-.24-.4-.46-.3l-5.6 2.17c-.13.05-.2.17-.2.3z"/><path d="M46 70.35l-1.66.8-.17.08-3.5 1.68c-.22.1-.5-.05-.5-.3v-4.7c0-.1.05-.17.1-.23.03-.03.06-.05.1-.07.1-.05.22-.07.33-.02l5.3 2.1c.27.1.3.5 0 .66z"/></g>
<g fill="#fff"><rect x="43.8" y="89.3" width="6.8" height="1.3" rx=".3"/><rect x="43.8" y="91.6" width="6.8" height="1.3" rx=".3"/><rect x="43.8" y="93.9" width="6.8" height="1.3" rx=".3"/></g>
<path d="M133.89999999999998 90.7h3.6l-1.8 2.2z" fill="#999"/>
<rect x="237.7" y="88.2" width="7.4" height="7.4" rx="1.6" fill="#fff"/><path d="M241.4 89.9v4M239.4 91.9h4" stroke="#1283da" stroke-width="1.3"/>
<g fill="none" stroke="#fff" stroke-width=".9"><rect x="351.9" y="68" width="8.4" height="5.6" rx=".7"/><path d="M354.3 68v-1.1c0-.3.2-.5.5-.5h2.6c.3 0 .5.2.5.5V68M351.9 70.6h8.4"/></g>
<path d="M447.0 68.6h3.2l-1.6 2z" fill="#fff"/>
<circle cx="714.6" cy="69.6" r="4.2" fill="#fff"/><text x="714.6" y="72.1" font-family="Liberation Sans, sans-serif" font-weight="bold" font-size="7" fill="#1283da" text-anchor="middle">?</text>
<path d="M732.6 65.3c-2 0-3 1.5-3 3.2v2l-.9 1.3c-.2.3 0 .7.4.7h7c.4 0 .6-.4.4-.7l-.9-1.3v-2c0-1.700-1-3.200-3-3.200zM731.500 73.100h2.200c0 .6-.5 1-1.100 1s-1.100-.4-1.100-1z" fill="#fff"/>
<clipPath id="uav"><circle cx="753.100" cy="70.200" r="7.100"/></clipPath><g clip-path="url(#uav)"><circle cx="753.100" cy="70.200" r="7.100" fill="#f1edfb"/><g filter="url(#avb)"><path d="M751.500 78l1.500-6 3-1.500 5 6v2z" fill="#4f5fcb"/><path d="M752.600 67.800l3-1 1.800 2.600-1.400 3-3 .300z" fill="#c4406f"/><path d="M750 65.500c1.500-1.500 5-1.500 6.500 0l.600 2.800-2-.800-2.300 1.500-2.500-1.200z" fill="#141018"/></g></g><circle cx="758.200" cy="75.100" r="2.500" fill="#1283da"/><circle cx="758.200" cy="75.100" r="1.900" fill="#20c933"/>
<g fill="none" stroke="#fff" stroke-width="1.150"><path d="M705.600 90.300a3.600 3.600 0 1 1-.4 2.600"/><path d="M708.600 89.800v2.300l1.500.9" stroke-width=".9"/></g><path d="M703.900 89.300l2.800.3-1.700 2.200z" fill="#fff"/>
<g fill="#fff"><rect x="720.200" y="88.300" width="3.200" height="3.200" rx=".4"/><path d="M725.900 88.100l1.900 3.300h-3.800z"/><rect x="720.200" y="92.500" width="3.200" height="3.200" rx=".4"/><path d="M724.300 92.500h3.400l-1.700 3.300z"/></g>
<path d="M44.9 111.85000000000001h5l-2.5 3.1z" fill="#666"/>
<rect x="58.100" y="108.500" width="8.800" height="8.600" rx="1.200" fill="#2d8af0"/><path d="M61.300 109.200v7.200M58.800 111.500h7.400M58.800 114.200h7.400" stroke="#fff" stroke-width=".8"/>
<g fill="#989898"><circle cx="126.300" cy="111.400" r="1.700"/><path d="M123.600 116c0-1.800 1.100-2.700 2.700-2.700s2.700.9 2.700 2.700z"/><circle cx="123.100" cy="112.100" r="1.100"/><circle cx="129.500" cy="112.100" r="1.100"/><path d="M121.700 115.500c0-1.400.6-2 1.700-2l-.5 2zM130.900 115.500c0-1.400-.6-2-1.700-2l.5 2z"/></g>
<g fill="none" stroke="#444" stroke-width="1.200" stroke-linecap="round"><path d="M157.300 110.700c-1.500.2-2.500 1.100-3 2.300.4 1 1.200 1.800 2.300 2.200M159.600 115.300c1.500-.2 2.500-1.100 3-2.300-.4-1-1.200-1.800-2.300-2.200"/><path d="M160.200 110.200l-3.400 5.700"/></g>
<g fill="#444"><rect x="218.100" y="110.200" width="8.200" height="1.500" rx=".4"/><rect x="219.600" y="112.500" width="5.200" height="1.500" rx=".4"/><rect x="221.100" y="114.800" width="2.200" height="1.500" rx=".4"/></g>
<g><rect x="261.400" y="109.400" width="7" height="7.200" rx="1" fill="none" stroke="#444" stroke-width="1"/><path d="M261.400 111.600h7" stroke="#444" stroke-width=".9"/><rect x="265" y="112.700" width="1.500" height="1.100" fill="#444"/><rect x="263.300" y="114.300" width="3.200" height="1.100" fill="#444"/></g>
<g fill="none" stroke="#444" stroke-width="1.100"><path d="M352.400 109.700v5.500M355.900 110.300v5.500"/></g><path d="M350.600 113.500h3.600l-1.800 2.500zM354.100 112.100h3.600l-1.800-2.500z" fill="#444"/>
<g fill="#444"><path d="M393.400 109.100l3.600 3.600c.2.200.2.500 0 .7l-2.600 2.600c-.4.400-1 .4-1.400 0l-2.600-2.600c-.4-.4-.4-1 0-1.400l2.300-2.300-.6-.6z"/><path d="M397.400 114.300c.5.700.8 1.200.8 1.600a.8.800 0 0 1-1.600 0c0-.4.300-.9.800-1.600z"/></g><path d="M393.400 110.500l-1.900 1.900h3.800z" fill="#fff"/>
<g fill="#444"><rect x="434.400" y="109.300" width="5.600" height="1.500"/><rect x="434.400" y="111.700" width="5.600" height=".8"/><rect x="434.400" y="113.500" width="5.600" height=".8"/><rect x="434.400" y="115.300" width="5.600" height=".8"/><rect x="441.400" y="110.200" width=".9" height="5.600"/><path d="M440.300 110.900l1.550-1.700 1.550 1.700zM440.300 115.200l1.550 1.700 1.550-1.700z"/></g>
<g fill="none" stroke="#444" stroke-width="1.100"><path d="M460.600 110.500h-1.600c-.5 0-.8.300-.8.800v3.400c0 .5.300.8.800.8h3.400c.5 0 .8-.3.800-.8v-1.500"/><path d="M461.200 112.700l2.900-2.900"/></g><path d="M462.100 109.300h2.900v2.900z" fill="#444"/>
<g fill="#444"><circle cx="480" cy="113.200" r=".85"/><circle cx="482.700" cy="113.200" r=".85"/><circle cx="485.400" cy="113.200" r=".85"/></g>
<g fill="none" stroke="#555" stroke-width="1.050"><circle cx="754.500" cy="112.200" r="2.600"/><path d="M756.400 114.200l2.500 2.500" stroke-linecap="round"/></g>
<rect x="46.400" y="131.500" width="5.800" height="5.800" rx=".8" fill="#fff" stroke="#c6c6c6" stroke-width=".8"/>
<g><rect x="67.900" y="134.300" width="3.400" height="2.700" rx=".4" fill="#ccc"/><path d="M68.600 134.300v-.7a1 1 0 0 1 2 0v.7" fill="none" stroke="#ccc" stroke-width=".6"/></g>
<text x="85" y="137.600" font-family="Liberation Sans, sans-serif" font-size="8.300" fill="#707070" stroke="#707070" stroke-width=".25" text-anchor="middle">A</text>
<path d="M199.35 133.75h3.3l-1.65 1.9z" fill="#a2a2a2"/>
<path d="M338.55 133.75h3.3l-1.65 1.9z" fill="#a2a2a2"/>
<path d="M395.35 133.75h3.3l-1.65 1.9z" fill="#a2a2a2"/>
<path d="M486.15000000000003 133.75h3.3l-1.65 1.9z" fill="#a2a2a2"/>
<path d="M552.75 133.75h3.3l-1.65 1.9z" fill="#a2a2a2"/>
<path d="M623.0500000000001 133.75h3.3l-1.65 1.9z" fill="#a2a2a2"/>
<path d="M700.35 133.75h3.3l-1.65 1.9z" fill="#a2a2a2"/>
<path d="M761.65 133.75h3.3l-1.65 1.9z" fill="#a2a2a2"/>
<text x="213.100" y="134.400" font-family="Liberation Sans, sans-serif" font-size="4.800" font-weight="bold" fill="#858585" text-anchor="middle">A</text>
<g fill="none" stroke="#858585" stroke-width=".85"><path d="M216 132.300h3.400M216 134h3.400M211.400 135.700h8M211.400 137.300h6"/></g>
<circle cx="353.8" cy="134.400" r="3.900" fill="#8e8e8e"/><path d="M351.8 133.4h4l-2 2.600z" fill="#fff"/>
<circle cx="412" cy="134.400" r="3.900" fill="#8e8e8e"/><path d="M410 133.4h4l-2 2.600z" fill="#fff"/>
<g stroke="#555" stroke-width=".9" fill="none"><path d="M498.200 131.600h8M498.200 134.300h2.200M501.800 134.300h4.400M498.200 137h8"/></g>
<path d="M566.200 130.800h4l2.200 2.200v4.400c0 .3-.2.500-.5.500h-5.700c-.3 0-.5-.2-.5-.5v-6.100c0-.3.200-.5.500-.5z" fill="#8e8e8e"/><path d="M570.200 130.800v2.200h2.200z" fill="#c9c9c9"/>
<g fill="#8e8e8e"><circle cx="639.300" cy="132.400" r="1.700"/><path d="M636.500 137.900v-1.300c0-1.400 1.200-2.200 2.800-2.200s2.800.8 2.800 2.200v1.300z"/></g>
<g fill="none" stroke="#666" stroke-width=".8"><rect x="714.800" y="131.400" width="7.200" height="6.400" rx=".6"/><path d="M714.800 133.200h7.200M718.400 133.200v4.600"/></g><g fill="#666"><rect x="716" y="134.300" width="1.300" height=".6"/><rect x="716" y="135.900" width="1.300" height=".6"/><rect x="719.800" y="134.200" width=".7" height="2.500"/></g>
<path d="M46.9 164.2h6l-3.0 4z" fill="#333"/>
<path d="M46.9 327.0h6l-3.0 4z" fill="#333"/>
<path d="M48.400 488.700l4.200 2.900-4.200 2.900z" fill="#333"/></svg>
</div></div>
</body></html>
